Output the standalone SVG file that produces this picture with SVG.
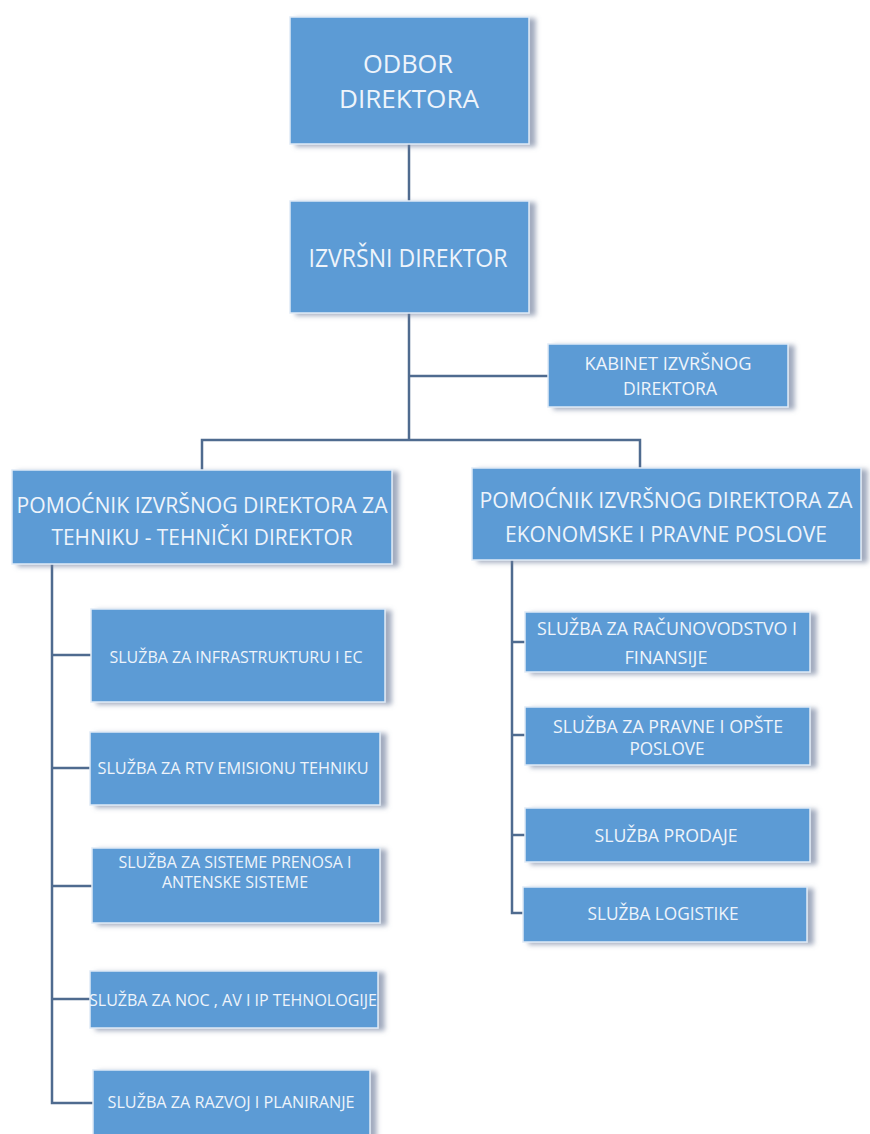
<svg xmlns="http://www.w3.org/2000/svg" width="870" height="1134" viewBox="0 0 870 1134">
<defs>
<filter id="sh" x="-10%" y="-20%" width="130%" height="150%">
<feDropShadow dx="6" dy="2" stdDeviation="2.5" flood-color="#6f7f9c" flood-opacity="0.65"/>
</filter>
<style>
.box{fill:#5b9bd5;stroke:#dfeaf6;stroke-width:1.5;filter:url(#sh)}
.t{font-family:"Open Sans","Noto Sans",sans-serif;fill:#eef4fb;text-anchor:middle}
.ln{stroke:#4f6b8f;stroke-width:2.5;fill:none}
</style>
</defs>
<rect width="870" height="1134" fill="#ffffff"/>
<g id="connectors">
<path class="ln" d="M409 144V201"/>
<path class="ln" d="M409 313V440"/>
<path class="ln" d="M409 376H548"/>
<path class="ln" d="M202 470V440H640V468"/>
<path class="ln" d="M52 564V1103H93"/>
<path class="ln" d="M52 655H91"/>
<path class="ln" d="M52 768H90"/>
<path class="ln" d="M52 886H92"/>
<path class="ln" d="M52 999H90"/>
<path class="ln" d="M512 560V913H523"/>
<path class="ln" d="M512 642H525"/>
<path class="ln" d="M512 735H525"/>
<path class="ln" d="M512 835H525"/>
</g>
<g id="odbor">
<rect class="box" x="290" y="17" width="239" height="127"/>
<text class="t" x="408" y="73" font-size="26" textLength="90" lengthAdjust="spacingAndGlyphs">ODBOR</text>
<text class="t" x="409" y="108" font-size="26" textLength="140" lengthAdjust="spacingAndGlyphs">DIREKTORA</text>
</g>
<g id="izvrsni">
<rect class="box" x="290" y="201" width="239" height="112"/>
<text class="t" x="408" y="267" font-size="26" textLength="199" lengthAdjust="spacingAndGlyphs">IZVRŠNI DIREKTOR</text>
</g>
<g id="kabinet">
<rect class="box" x="548" y="344" width="240" height="63"/>
<text class="t" x="668" y="370" font-size="18" textLength="167" lengthAdjust="spacingAndGlyphs">KABINET IZVRŠNOG</text>
<text class="t" x="670" y="395" font-size="18" textLength="94" lengthAdjust="spacingAndGlyphs">DIREKTORA</text>
</g>
<g id="pomocnik-tehnika">
<rect class="box" x="12" y="470" width="380" height="94"/>
<text class="t" x="202" y="513" font-size="22" textLength="371" lengthAdjust="spacingAndGlyphs">POMOĆNIK IZVRŠNOG DIREKTORA ZA</text>
<text class="t" x="202" y="545" font-size="22" textLength="301" lengthAdjust="spacingAndGlyphs">TEHNIKU - TEHNIČKI DIREKTOR</text>
</g>
<g id="pomocnik-ekonomija">
<rect class="box" x="472" y="468" width="389" height="92"/>
<text class="t" x="666" y="508" font-size="22" textLength="373" lengthAdjust="spacingAndGlyphs">POMOĆNIK IZVRŠNOG DIREKTORA ZA</text>
<text class="t" x="666" y="542" font-size="22" textLength="322" lengthAdjust="spacingAndGlyphs">EKONOMSKE I PRAVNE POSLOVE</text>
</g>
<g id="infrastruktura">
<rect class="box" x="91" y="609" width="294" height="93"/>
<text class="t" x="236" y="663" font-size="16" textLength="253" lengthAdjust="spacingAndGlyphs">SLUŽBA ZA INFRASTRUKTURU I EC</text>
</g>
<g id="rtv">
<rect class="box" x="90" y="732" width="290" height="73"/>
<text class="t" x="233" y="774" font-size="16" textLength="271" lengthAdjust="spacingAndGlyphs">SLUŽBA ZA  RTV EMISIONU TEHNIKU</text>
</g>
<g id="sistemi">
<rect class="box" x="92" y="848" width="288" height="75"/>
<text class="t" x="235" y="868" font-size="16" textLength="233" lengthAdjust="spacingAndGlyphs">SLUŽBA ZA SISTEME PRENOSA I</text>
<text class="t" x="235" y="888" font-size="16" textLength="146" lengthAdjust="spacingAndGlyphs">ANTENSKE SISTEME</text>
</g>
<g id="noc">
<rect class="box" x="90" y="971" width="288" height="57"/>
<text class="t" x="233" y="1006" font-size="16" textLength="288" lengthAdjust="spacingAndGlyphs">SLUŽBA ZA NOC , AV I IP TEHNOLOGIJE</text>
</g>
<g id="razvoj">
<rect class="box" x="93" y="1070" width="277" height="75"/>
<text class="t" x="231" y="1108" font-size="16" textLength="247" lengthAdjust="spacingAndGlyphs">SLUŽBA ZA RAZVOJ I PLANIRANJE</text>
</g>
<g id="racunovodstvo">
<rect class="box" x="525" y="612" width="285" height="60"/>
<text class="t" x="667" y="635" font-size="18" textLength="260" lengthAdjust="spacingAndGlyphs">SLUŽBA ZA RAČUNOVODSTVO I</text>
<text class="t" x="666" y="664" font-size="18" textLength="83" lengthAdjust="spacingAndGlyphs">FINANSIJE</text>
</g>
<g id="pravne">
<rect class="box" x="525" y="707" width="285" height="58"/>
<text class="t" x="668" y="733" font-size="18" textLength="230" lengthAdjust="spacingAndGlyphs">SLUŽBA ZA PRAVNE I OPŠTE</text>
<text class="t" x="667" y="755" font-size="18" textLength="75" lengthAdjust="spacingAndGlyphs">POSLOVE</text>
</g>
<g id="prodaja">
<rect class="box" x="525" y="808" width="285" height="54"/>
<text class="t" x="666" y="842" font-size="18" textLength="143" lengthAdjust="spacingAndGlyphs">SLUŽBA PRODAJE</text>
</g>
<g id="logistika">
<rect class="box" x="523" y="887" width="284" height="55"/>
<text class="t" x="663" y="920" font-size="18" textLength="151" lengthAdjust="spacingAndGlyphs">SLUŽBA LOGISTIKE</text>
</g>
</svg>
